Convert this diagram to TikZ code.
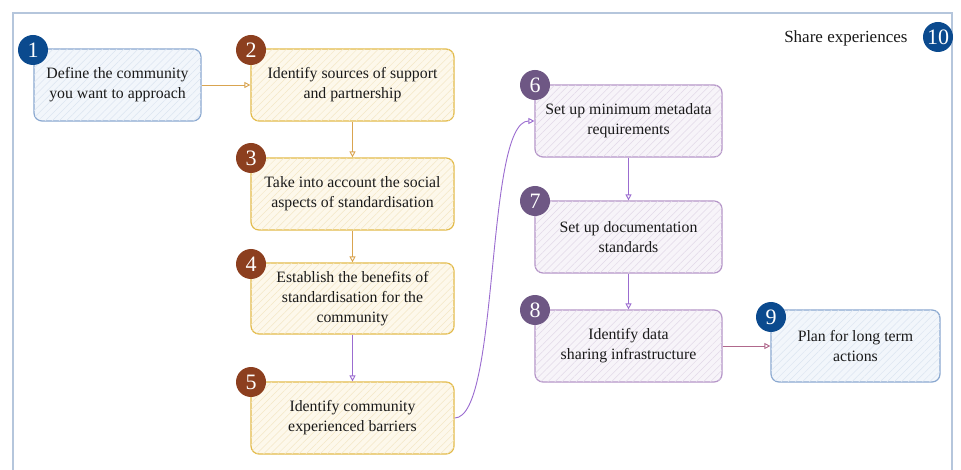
\documentclass[tikz,border=0pt]{standalone}
\usepackage{fontspec}
\setmainfont{Liberation Serif}
\usetikzlibrary{arrows.meta,patterns.meta}
\definecolor{bluebadge}{HTML}{0B4A8E}
\definecolor{blueline}{HTML}{8AA8D0}
\definecolor{bluefill}{HTML}{F2F6FB}
\definecolor{bluehatch}{HTML}{DCE5F1}
\definecolor{brownbadge}{HTML}{8C3F1F}
\definecolor{goldline}{HTML}{E3BB4A}
\definecolor{goldfill}{HTML}{FDF8EB}
\definecolor{goldhatch}{HTML}{F4E7C6}
\definecolor{purplebadge}{HTML}{6E5784}
\definecolor{purpleline}{HTML}{B595C8}
\definecolor{purplefill}{HTML}{F7F4F9}
\definecolor{purplehatch}{HTML}{E2D9E8}
\definecolor{arroworange}{HTML}{D9A450}
\definecolor{arrowpurple}{HTML}{9B6CD0}
\definecolor{arrowmauve}{HTML}{B0688C}
\definecolor{framecol}{HTML}{B5C6DC}
\definecolor{textcol}{HTML}{1A1A1A}
\tikzset{
  box/.style={draw, line width=1.2pt, rounded corners=8pt, align=center,
    text=textcol, font=\fontsize{15.8}{20}\selectfont, inner sep=0pt,
    execute at begin node={\rule{0pt}{17pt}}},
  bluebox/.style={box, draw=blueline, fill=bluefill,
    postaction={pattern={Lines[angle=45,distance=5pt,line width=0.5pt]}, pattern color=bluehatch}},
  goldbox/.style={box, draw=goldline, fill=goldfill,
    postaction={pattern={Lines[angle=45,distance=5pt,line width=0.5pt]}, pattern color=goldhatch}},
  purplebox/.style={box, draw=purpleline, fill=purplefill,
    postaction={pattern={Lines[angle=45,distance=5pt,line width=0.5pt]}, pattern color=purplehatch}},
  badge/.style={circle, minimum size=30pt, inner sep=0pt, text=white,
    font=\fontsize{22}{22}\selectfont},
  bluebadge/.style={badge, fill=bluebadge},
  brownbadge/.style={badge, fill=brownbadge},
  purplebadge/.style={badge, fill=purplebadge},
  conn/.style={line width=0.9pt, -{Triangle[open,length=6pt,width=6pt]}},
}
\begin{document}
\begin{tikzpicture}[x=1pt,y=-1pt]
\useasboundingbox (0,0) rectangle (961,470);
\fill[white] (0,0) rectangle (961,470);
% frame
\draw[framecol, line width=2pt] (13,480) -- (13,13) -- (952,13) -- (952,480);

% boxes
\node[bluebox, minimum width=167pt, minimum height=72pt] (b1) at (117.5,85) {Define the community\\you want to approach};
\node[goldbox, minimum width=203pt, minimum height=72pt] (b2) at (352.5,85) {Identify sources of support\\and partnership};
\node[goldbox, minimum width=203pt, minimum height=72pt] (b3) at (352.5,194) {Take into account the social\\aspects of standardisation};
\node[goldbox, minimum width=203pt, minimum height=71pt] (b4) at (352.5,298.5) {Establish the benefits of\\standardisation for the\\community};
\node[goldbox, minimum width=203pt, minimum height=72pt] (b5) at (352.5,418) {Identify community\\experienced barriers};
\node[purplebox, minimum width=187pt, minimum height=72pt] (b6) at (628.5,121) {Set up minimum metadata\\requirements};
\node[purplebox, minimum width=187pt, minimum height=72pt] (b7) at (628.5,237) {Set up documentation\\standards};
\node[purplebox, minimum width=187pt, minimum height=72pt] (b8) at (628.5,346) {Identify data\\sharing infrastructure};
\node[bluebox, minimum width=169pt, minimum height=72pt] (b9) at (855.5,346) {Plan for long term\\actions};
\node[text=textcol, font=\fontsize{17}{20}\selectfont, anchor=east] (share) at (911,38) {Share experiences};

% badges
\node[bluebadge] (n1) at (33,50) {1};
\node[brownbadge] (n2) at (251,50) {2};
\node[brownbadge] (n3) at (251,158) {3};
\node[brownbadge] (n4) at (251,264) {4};
\node[brownbadge] (n5) at (251,382) {5};
\node[purplebadge] (n6) at (535,85) {6};
\node[purplebadge] (n7) at (535,201) {7};
\node[purplebadge] (n8) at (535,310) {8};
\node[bluebadge] (n9) at (771,317) {9};
\node[bluebadge] (n10) at (938,37) {10};

% connectors
\draw[conn, arroworange] (b1.east) -- (b2.west);
\draw[conn, arroworange] (b2.south) -- (b3.north);
\draw[conn, arroworange] (b3.south) -- (b4.north);
\draw[conn, arrowpurple] (b4.south) -- (b5.north);
\draw[conn, arrowpurple] (b5.east) .. controls (500,418) and (485,121) .. (b6.west);
\draw[conn, arrowpurple] (b6.south) -- (b7.north);
\draw[conn, arrowpurple] (b7.south) -- (b8.north);
\draw[conn, arrowmauve] (b8.east) -- (b9.west);
\end{tikzpicture}
\end{document}
